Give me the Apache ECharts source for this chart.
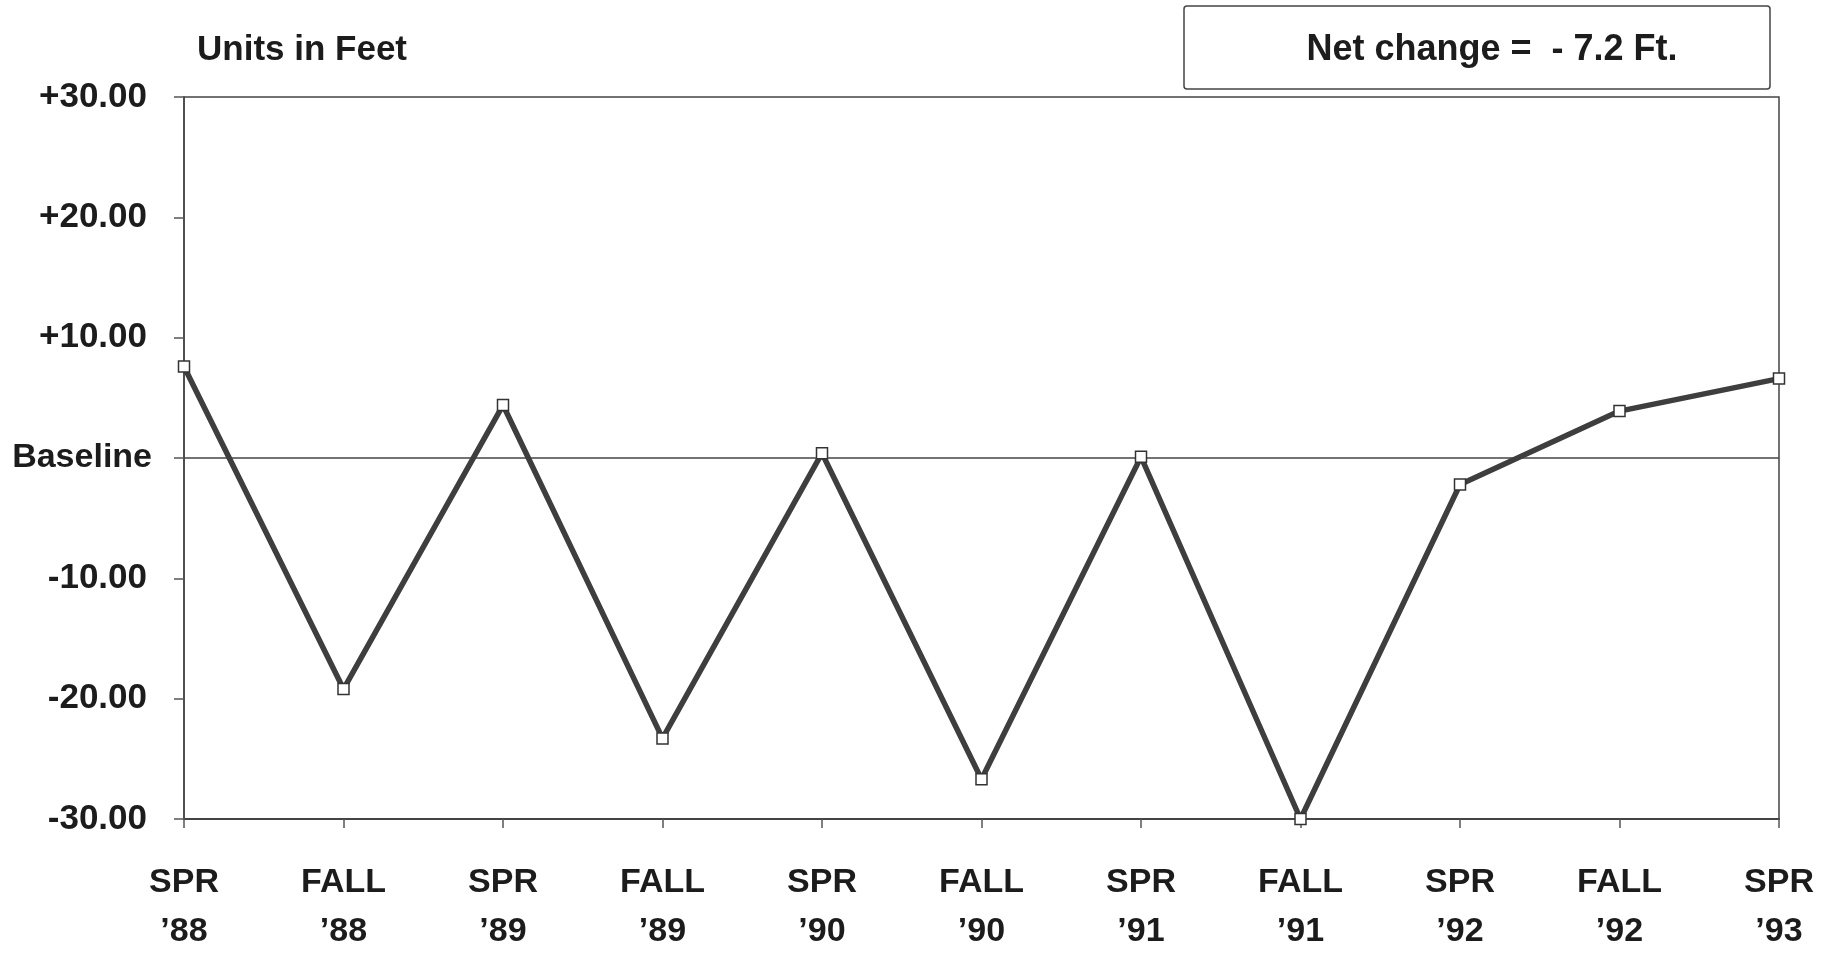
<!DOCTYPE html>
<html>
<head>
<meta charset="utf-8">
<script src="https://cdn.jsdelivr.net/npm/echarts@6/dist/echarts.min.js"></script>
<style>
html,body{margin:0;padding:0;background:#fff;}
#chart{width:1837px;height:956px;}
</style>
</head>
<body>
<div id="chart"></div>
<script>
const seasons = ['SPR','FALL','SPR','FALL','SPR','FALL','SPR','FALL','SPR','FALL','SPR'];
const years = ['’88','’88','’89','’89','’90','’90','’91','’91','’92','’92','’93'];
const levelChange = [7.6, -19.2, 4.4, -23.3, 0.4, -26.7, 0.1, -30.0, -2.2, 3.9, 6.6];
const yTickLabels = {'30':'+30.00','20':'+20.00','10':'+10.00','0':'Baseline','-10':'-10.00','-20':'-20.00','-30':'-30.00'};
const unitsTitle = 'Units in Feet';
const netChangeText = 'Net change =  - 7.2 Ft.';

const categories = seasons.map((s, i) => s + '\n' + years[i]);
const FONT = '"Liberation Sans", Arial, Helvetica, sans-serif';
const INK = '#1c1c1c';

const chart = echarts.init(document.getElementById('chart'), null, {renderer: 'canvas'});
chart.setOption({
  backgroundColor: '#ffffff',
  animation: false,
  grid: {left: 184, right: 58, top: 97, bottom: 134, show: true, borderColor: '#444', borderWidth: 1.5, backgroundColor: 'transparent'},
  xAxis: {
    type: 'category',
    data: categories,
    boundaryGap: false,
    axisLine: {show: true, onZero: false, lineStyle: {color: '#444', width: 2}},
    axisTick: {show: true, length: 9, alignWithLabel: true, lineStyle: {color: '#555', width: 1.5}},
    axisLabel: {color: INK, fontFamily: FONT, fontWeight: 'bold', fontSize: 34, lineHeight: 49, margin: 39, interval: 0}
  },
  yAxis: {
    type: 'value',
    min: -30, max: 30, interval: 10,
    axisLine: {show: true, lineStyle: {color: '#444', width: 1.5}},
    axisTick: {show: true, length: 10, lineStyle: {color: '#555', width: 1.5}},
    splitLine: {show: false},
    axisLabel: {color: INK, fontFamily: FONT, fontWeight: 'bold', fontSize: 35, margin: 32,
      formatter: v => (v === 0 ? '{b|' + yTickLabels['0'] + '}' : '{n|' + (yTickLabels[String(v)] || '') + '}'),
      rich: {
        b: {fontFamily: FONT, fontWeight: 'bold', fontSize: 34, color: INK},
        n: {fontFamily: FONT, fontWeight: 'bold', fontSize: 35, color: INK, padding: [0, 5, 0, 0]}
      }}
  },
  series: [{
    type: 'line',
    data: levelChange,
    symbol: 'rect',
    symbolSize: 11,
    lineStyle: {color: '#3e3e3e', width: 5.5},
    itemStyle: {color: '#ffffff', borderColor: '#333', borderWidth: 1.5},
    markLine: {
      silent: true,
      symbol: ['none','none'],
      label: {show: false},
      lineStyle: {color: '#444', width: 1.5, type: 'solid'},
      data: [{yAxis: 0}],
      z: 1
    },
    z: 3
  }],
  graphic: [
    {type: 'text', x: 197, y: 50, style: {text: unitsTitle, font: 'bold 35px ' + FONT, fill: INK, verticalAlign: 'middle'}},
    {type: 'rect', shape: {x: 1184, y: 6, width: 586, height: 83, r: 3}, style: {fill: '#fff', stroke: '#444', lineWidth: 1.5}},
    {type: 'text', x: 1492, y: 50, style: {text: netChangeText, font: 'bold 36px ' + FONT, fill: INK, align: 'center', verticalAlign: 'middle'}}
  ]
});
</script>
</body>
</html>
